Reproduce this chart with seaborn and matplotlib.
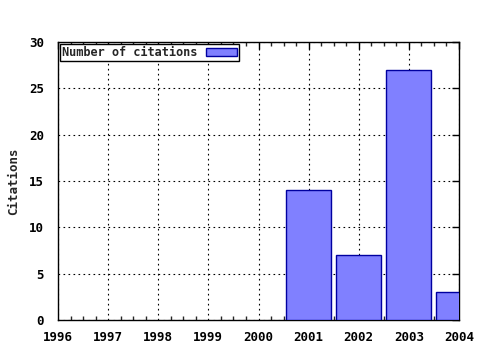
import matplotlib
matplotlib.use("Agg")
import matplotlib.pyplot as plt
import seaborn as sns
import pandas as pd
from matplotlib.ticker import MultipleLocator

years = [2001, 2002, 2003, 2004]
citations = [14, 7, 27, 3]
xticks = [1996, 1997, 1998, 1999, 2000, 2001, 2002, 2003, 2004]
yticks = [0, 5, 10, 15, 20, 25, 30]

sns.set_style("white")
plt.rcParams['font.family'] = ['DejaVu Sans Mono']
plt.rcParams['font.weight'] = 'bold'

df = pd.DataFrame({"year": years, "citations": citations})

fig = plt.figure(figsize=(4.8, 3.5), dpi=100)
ax = fig.add_axes([58/480, 1 - 320/350, (459-58)/480, (320-42)/350])

sns.barplot(data=df, x="year", y="citations", native_scale=True, width=0.9,
            color="#8080ff", saturation=1, edgecolor="#0000a0", linewidth=1,
            ax=ax, label="Number of citations", zorder=3)

ax.set_xlim(1996, 2004)
ax.set_ylim(0, 30)
ax.set_xticks(xticks)
ax.set_xticklabels([str(t) for t in xticks], fontsize=9, fontweight='bold')
ax.set_yticks(yticks)
ax.set_yticklabels([str(t) for t in yticks], fontsize=9, fontweight='bold')
ax.xaxis.set_minor_locator(MultipleLocator(0.25))
ax.tick_params(axis='both', which='major', direction='in', length=5, width=1,
               top=True, right=True, colors='black')
ax.tick_params(axis='x', which='major', pad=8)
ax.tick_params(axis='y', which='major', pad=10)
ax.tick_params(axis='x', which='minor', direction='in', length=3, width=1,
               top=True, bottom=True)
ax.set_xlabel("")
ax.set_ylabel("Citations", fontsize=9, fontweight='bold')
ax.yaxis.set_label_coords(-0.094, 0.5)
ax.grid(True, which='major', color='black', linestyle=(0, (1.5, 3)), linewidth=0.8, zorder=0)
ax.set_axisbelow(True)
for s in ax.spines.values():
    s.set_visible(True)
    s.set_color('black')
    s.set_linewidth(1)

leg = ax.legend(loc='upper left', markerfirst=False, fancybox=False, framealpha=1,
                edgecolor='black', fontsize=8.6, borderpad=0.15, handlelength=2.6,
                handleheight=0.55, borderaxespad=0.2, handletextpad=0.7)
leg.get_frame().set_linewidth(1)
for t in leg.get_texts():
    t.set_fontweight('bold')

fig.savefig("out.png", dpi=100)
